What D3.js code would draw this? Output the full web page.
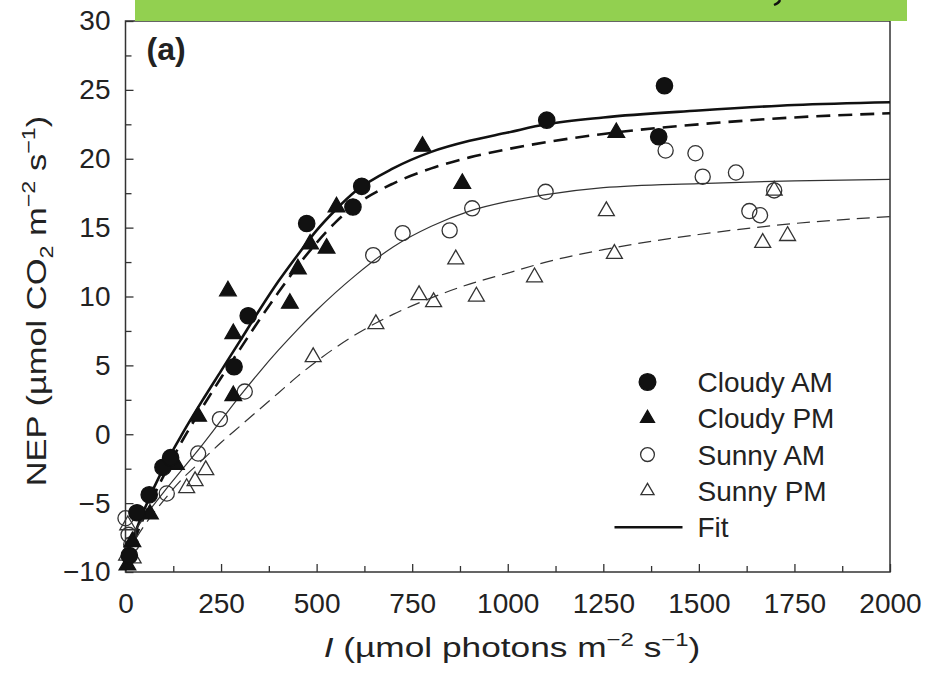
<!DOCTYPE html>
<html>
<head>
<meta charset="utf-8">
<script src="https://cdn.jsdelivr.net/npm/d3@7"></script>
<style>
body { margin: 0; background: #fff; }
text { font-family: "Liberation Sans", Arial, sans-serif; fill: #222; }
</style>
</head>
<body>

<svg id="chart" width="931" height="674"></svg>

<script>
// measured points, [I, NEP]
var cloudyAM = [[10,-8.8],[30,-5.7],[62,-4.4],[98,-2.4],[118,-1.7],[284,4.9],[321,8.6],[474,15.3],
    [595,16.5],[618,18.0],[1102,22.8],[1395,21.6],[1410,25.3]];
var cloudyPM = [[5,-9.5],[18,-7.8],[64,-5.8],[132,-2.2],[190,1.3],[268,10.4],[282,2.8],[282,7.3],
    [430,9.5],[451,12.0],[483,13.8],[526,13.5],[552,16.5],[777,20.9],[881,18.2],[1284,21.9]];
var sunnyAM = [[0,-6.1],[8,-7.3],[15,-8.0],[108,-4.3],[190,-1.4],[247,1.1],[312,3.1],[648,13.0],
    [725,14.6],[848,14.8],[907,16.4],[1099,17.6],[1413,20.6],[1491,20.4],[1510,18.7],[1597,19.0],
    [1632,16.2],[1660,15.9],[1697,17.7]];
var sunnyPM = [[3,-8.8],[6,-6.6],[20,-9.0],[160,-3.9],[182,-3.4],[210,-2.6],[491,5.6],[655,8.0],
    [768,10.1],[806,9.6],[864,12.7],[918,10.0],[1070,11.4],[1258,16.2],[1279,13.1],[1667,13.9],
    [1697,17.7],[1732,14.4]];

// fitted curves
var fitI = [0,50,100,150,200,250,300,350,400,450,500,550,600,700,800,900,1000,1100,1250,1500,1750,2000];
var fitCloudyAM = [-9.0,-5.4,-2.4,0.1,2.4,4.6,6.8,9.0,11.1,13.0,14.8,16.3,17.6,19.3,20.5,21.3,21.9,22.5,23.0,23.5,23.9,24.1];
var fitCloudyPM = [-9.3,-5.9,-3.0,-0.4,1.9,4.1,6.2,8.3,10.3,12.2,13.9,15.4,16.6,18.2,19.3,20.1,20.7,21.2,21.8,22.5,23.0,23.3];
var fitSunnyAM  = [-8.0,-6.0,-4.2,-2.5,-0.8,1.0,2.8,4.5,6.1,7.6,9.0,10.3,11.5,13.6,15.1,16.2,16.9,17.4,17.9,18.2,18.4,18.5];
var fitSunnyPM  = [-8.8,-6.6,-4.8,-3.2,-1.9,-0.6,0.6,1.8,3.0,4.2,5.3,6.3,7.2,8.7,9.9,10.9,11.7,12.5,13.4,14.5,15.3,15.8];

var xTicks = [0,250,500,750,1000,1250,1500,1750,2000];
var yTicks = [-10,-5,0,5,10,15,20,25,30];
var legendLabels = ["Cloudy AM","Cloudy PM","Sunny AM","Sunny PM","Fit"];

drawChart();

function drawChart() {

var margin = {top: 21, right: 41, bottom: 102, left: 125.5},
    width = 931 - margin.left - margin.right,
    height = 674 - margin.top - margin.bottom;

var svg = d3.select("svg#chart");
var g = svg.append("g")
    .attr("transform", "translate(" + margin.left + "," + margin.top + ")");

var x = d3.scaleLinear().domain([0, 2000]).range([0, width]);
var y = d3.scaleLinear().domain([-10, 30]).range([height, 0]);

var minorX = d3.range(125, 2000, 250);
var minorY = d3.range(-7.5, 30, 5);

// axes, ticks point inward
g.append("g")
    .attr("class", "x axis")
    .attr("transform", "translate(0," + height + ")")
    .call(d3.axisBottom(x).tickValues(xTicks).tickSize(-8).tickPadding(21).tickSizeOuter(0)
        .tickFormat(d3.format("d")));
g.append("g")
    .attr("transform", "translate(0," + height + ")")
    .call(d3.axisBottom(x).tickValues(minorX).tickSize(-6).tickFormat(""));
g.append("g")
    .attr("class", "y axis")
    .call(d3.axisLeft(y).tickValues(yTicks).tickSize(-8).tickPadding(15).tickSizeOuter(0)
        .tickFormat(function(d) { return d < 0 ? "\u2212" + Math.abs(d) : d; }));
g.append("g")
    .call(d3.axisLeft(y).tickValues(minorY).tickSize(-6).tickFormat(""));

g.selectAll(".domain").remove();
g.selectAll(".tick line").attr("stroke", "#333").attr("stroke-width", 1.3);
g.selectAll(".tick text")
    .attr("font-family", "Liberation Sans, Arial, sans-serif")
    .attr("font-size", 28)
    .attr("fill", "#2a2a2a");

g.append("rect")
    .attr("x", 0).attr("y", 0)
    .attr("width", width).attr("height", height)
    .attr("fill", "none")
    .attr("stroke", "#333")
    .attr("stroke-width", 1.5);

// fit lines
var line = d3.line()
    .x(function(d) { return x(d[0]); })
    .y(function(d) { return y(d[1]); })
    .curve(d3.curveMonotoneX);

var fits = [
    {vals: fitCloudyAM, w: 2.6, dash: null, col: "#111"},
    {vals: fitCloudyPM, w: 2.6, dash: "14,8", col: "#111"},
    {vals: fitSunnyAM,  w: 1.2, dash: null, col: "#333"},
    {vals: fitSunnyPM,  w: 1.2, dash: "13,7", col: "#333"}
];
fits.forEach(function(f) {
    g.append("path")
        .datum(fitI.map(function(d, i) { return [d, f.vals[i]]; }))
        .attr("d", line)
        .attr("fill", "none")
        .attr("stroke", f.col)
        .attr("stroke-width", f.w)
        .attr("stroke-dasharray", f.dash);
});

// points
var circleFilled = d3.symbol().type(d3.symbolCircle).size(210);
var triFilled = d3.symbol().type(d3.symbolTriangle).size(120);
var circleOpen = d3.symbol().type(d3.symbolCircle).size(180);
var triOpen = d3.symbol().type(d3.symbolTriangle).size(110);

var series = [
    {data: sunnyPM, sym: triOpen, fill: "#fff", stroke: "#333"},
    {data: sunnyAM, sym: circleOpen, fill: "#fff", stroke: "#333"},
    {data: cloudyPM, sym: triFilled, fill: "#111", stroke: "#111"},
    {data: cloudyAM, sym: circleFilled, fill: "#111", stroke: "#111"}
];
series.forEach(function(s) {
    g.append("g").selectAll("path")
        .data(s.data)
        .enter().append("path")
        .attr("transform", function(d) { return "translate(" + x(d[0]) + "," + y(d[1]) + ")"; })
        .attr("d", s.sym)
        .attr("fill", s.fill)
        .attr("fill-opacity", s.fill == "#fff" ? 0 : 1)
        .attr("stroke", s.stroke)
        .attr("stroke-width", 1.3);
});

// panel label
g.append("text")
    .attr("x", 21).attr("y", 39)
    .attr("font-size", 32)
    .attr("font-weight", "bold")
    .text("(a)");

// legend
var legend = g.append("g").attr("transform", "translate(522,361)");
var legSyms = [
    d3.symbol().type(d3.symbolCircle).size(220),
    d3.symbol().type(d3.symbolTriangle).size(85),
    d3.symbol().type(d3.symbolCircle).size(150),
    d3.symbol().type(d3.symbolTriangle).size(75)
];
var legFill = ["#111", "#111", "none", "none"];
legendLabels.forEach(function(lab, i) {
    var row = legend.append("g").attr("transform", "translate(0," + (i * 36.3) + ")");
    if (i < 4) {
        row.append("path")
            .attr("d", legSyms[i])
            .attr("fill", legFill[i])
            .attr("stroke", i < 2 ? "#111" : "#333")
            .attr("stroke-width", 1.3);
    } else {
        row.append("line")
            .attr("x1", -33).attr("x2", 35)
            .attr("stroke", "#111").attr("stroke-width", 2.6);
    }
    row.append("text")
        .attr("x", 50).attr("dy", "0.36em")
        .attr("font-size", 28)
        .text(lab);
});

// axis titles
var xt = svg.append("g")
    .attr("transform", "translate(512,657) scale(1.26,1)")
    .append("text")
    .attr("text-anchor", "middle")
    .attr("font-size", 28);
xt.append("tspan").attr("font-style", "italic").text("I");
xt.append("tspan").text(" (\u00b5mol photons m");
xt.append("tspan").attr("dy", -11).attr("font-size", 19).text("\u22122");
xt.append("tspan").attr("dy", 11).text(" s");
xt.append("tspan").attr("dy", -11).attr("font-size", 19).text("\u22121");
xt.append("tspan").attr("dy", 11).text(")");

var yt = svg.append("g")
    .attr("transform", "translate(46,301) rotate(-90) scale(1.23,1)")
    .append("text")
    .attr("text-anchor", "middle")
    .attr("font-size", 28);
yt.append("tspan").text("NEP (\u00b5mol CO");
yt.append("tspan").attr("dy", 7).attr("font-size", 19).text("2");
yt.append("tspan").attr("dy", -7).text(" m");
yt.append("tspan").attr("dy", -11).attr("font-size", 19).text("\u22122");
yt.append("tspan").attr("dy", 11).text(" s");
yt.append("tspan").attr("dy", -11).attr("font-size", 19).text("\u22121");
yt.append("tspan").attr("dy", 11).text(")");

// green banner covering the top of the figure, with the tip of a hidden glyph
svg.append("rect")
    .attr("x", 135).attr("y", 0)
    .attr("width", 772).attr("height", 21)
    .attr("fill", "#92d050");
svg.append("path")
    .attr("d", "M780,0 Q779,3 774,5")
    .attr("fill", "none")
    .attr("stroke", "#111")
    .attr("stroke-width", 2.4);

}
</script>
</body>
</html>
